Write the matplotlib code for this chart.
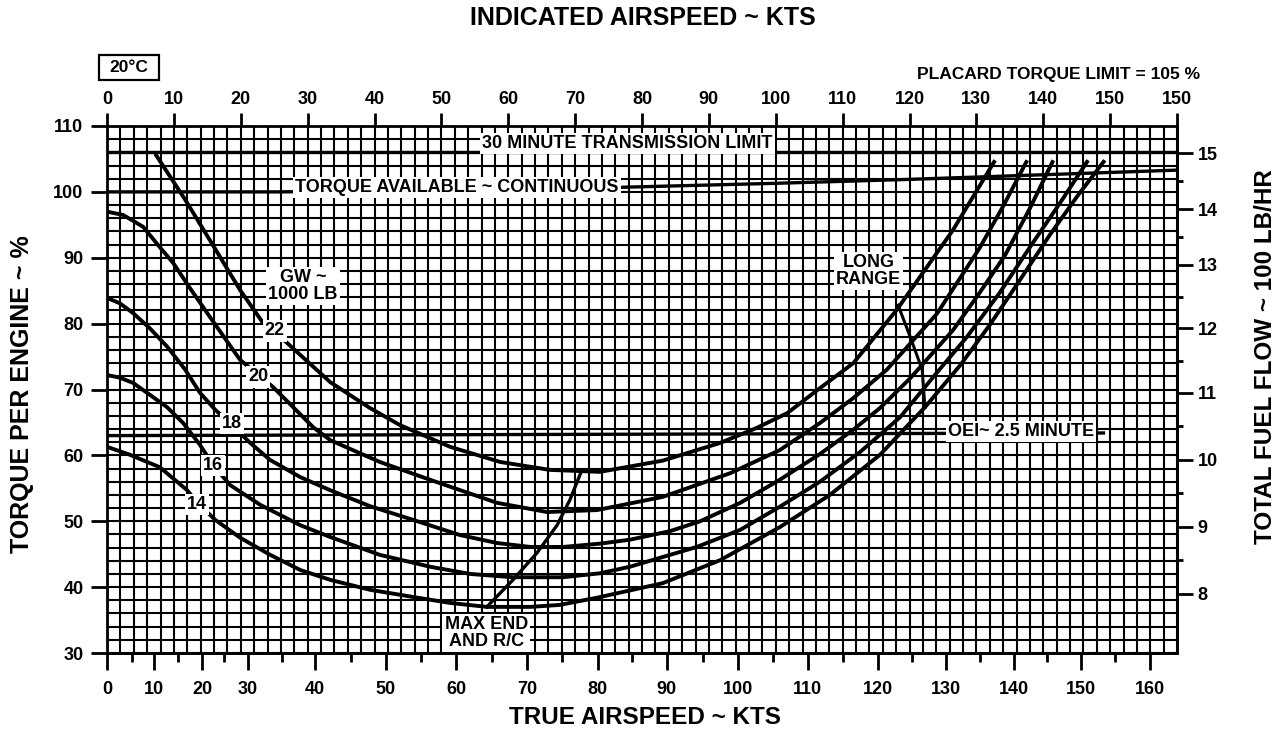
import numpy as np
import matplotlib
matplotlib.use("Agg")
import matplotlib.pyplot as plt
from matplotlib.ticker import MultipleLocator, FixedLocator
from matplotlib.patches import Rectangle

plt.rcParams["font.family"] = ["Liberation Sans", "DejaVu Sans"]
plt.rcParams["font.weight"] = "bold"

# ---------------- data ----------------
ias_ticks = [0, 10, 20, 30, 40, 50, 60, 70, 80, 90, 100, 110, 120, 130, 140, 150, 160]
ias_tick_labels = ["0", "10", "20", "30", "40", "50", "60", "70", "80", "90",
                   "100", "110", "120", "130", "140", "150", "150"]

# true airspeed <-> indicated airspeed calibration
tas_cal = [0, 5, 10, 15, 20, 25, 30, 35, 40, 45, 50, 55, 60, 65, 70, 75, 80,
           90, 100, 110, 120, 130, 140, 150, 160]
ias_cal = [0.0, 3.7, 7.0, 10.6, 14.2, 17.5, 21.1, 26.2, 31.1, 36.5, 41.7, 46.9,
           52.2, 57.6, 62.8, 68.0, 73.4, 83.7, 94.4, 104.8, 115.3, 125.5,
           135.6, 145.6, 155.9]
tas_major = [0, 10, 20, 30, 40, 50, 60, 70, 80, 90, 100, 110, 120, 130, 140, 150, 160]
tas_minor = [5, 15, 25, 35, 45, 55, 65, 75, 85, 95, 105, 115, 125, 135, 145, 155]

# fuel flow scale (100 lb/hr) vs torque
fuel_ticks = [8, 9, 10, 11, 12, 13, 14, 15]
fuel_torque = [39.0, 49.2, 59.3, 69.5, 79.3, 88.9, 97.4, 105.9]
fuel_minor = [8.5, 9.5, 10.5, 11.5, 12.5, 13.5, 14.5]

gw_names = ["22", "20", "18", "16", "14"]

gw22_ias = [7.2, 11.7, 15.9, 19.9, 23.2, 26.9, 33.4, 39.3, 43.8, 51.3, 58.8, 66.2,
            73.7, 83.1, 91.7, 97.0, 101.7, 106.6, 111.6, 118.1, 126.5, 132.8]
gw22_tq = [105.8, 98.8, 91.8, 85.1, 80.3, 77.1, 71.1, 67.2, 64.6, 61.3, 59.0, 57.8,
           57.5, 59.2, 61.9, 64.1, 66.4, 70.2, 74.0, 82.1, 94.2, 104.8]

gw20_ias = [0.0, 2.4, 5.4, 7.9, 9.9, 12.4, 15.4, 19.9, 24.8, 30.8, 33.4, 40.8, 48.3,
            58.3, 65.8, 73.3, 83.1, 93.2, 100.6, 106.6, 111.6, 116.6, 124.1, 130.5,
            134.1, 137.6]
gw20_tq = [97.0, 96.5, 94.7, 91.6, 89.2, 85.4, 81.0, 74.5, 70.4, 64.3, 62.3, 59.0,
           56.3, 52.8, 51.4, 51.7, 53.7, 57.3, 60.8, 64.9, 68.7, 73.0, 81.5, 91.5,
           98.0, 104.8]

gw18_ias = [0.0, 1.9, 3.9, 6.4, 9.0, 11.7, 13.9, 16.2, 18.7, 21.4, 24.4, 28.9, 33.4,
            39.3, 45.8, 52.8, 58.3, 63.3, 68.2, 73.7, 78.2, 84.2, 88.7, 94.7, 100.6,
            106.6, 111.6, 115.6, 120.1, 126.5, 130.5, 134.3, 138.0, 141.5]
gw18_tq = [83.9, 83.1, 81.6, 79.3, 76.5, 73.0, 69.5, 66.9, 64.6, 61.9, 59.3, 56.7,
           54.7, 52.3, 50.2, 47.9, 46.7, 46.1, 46.1, 46.6, 47.2, 48.5, 50.0, 52.8,
           56.3, 60.2, 63.9, 67.2, 71.7, 79.0, 84.7, 90.4, 97.5, 104.8]

gw16_ias = [0.0, 1.9, 3.9, 6.4, 9.0, 11.4, 13.9, 15.9, 18.4, 22.9, 28.9, 33.4, 40.8,
            48.3, 54.3, 60.7, 68.2, 73.7, 78.2, 88.2, 94.7, 100.6, 106.6, 112.6,
            118.6, 123.8, 128.6, 133.5, 138.0, 142.5, 146.7]
gw16_tq = [72.2, 71.8, 71.0, 69.2, 67.3, 64.9, 61.6, 58.5, 55.5, 52.5, 49.4, 47.6,
           44.9, 43.1, 42.0, 41.5, 41.5, 42.1, 43.1, 46.1, 48.7, 52.2, 56.0, 60.5,
           65.8, 72.2, 78.0, 84.7, 91.6, 98.3, 104.8]

gw14_ias = [0.0, 3.4, 7.9, 12.0, 13.5, 16.2, 19.9, 24.4, 28.9, 33.4, 39.3, 45.8,
            51.3, 56.8, 63.3, 67.7, 73.3, 83.1, 91.7, 100.6, 108.1, 115.6, 122.3,
            127.6, 132.0, 136.5, 141.0, 145.2, 149.2]
gw14_tq = [61.3, 60.1, 58.2, 54.7, 52.8, 50.2, 47.5, 44.9, 42.6, 41.1, 39.6, 38.5,
           37.6, 37.0, 37.0, 37.3, 38.4, 40.6, 44.1, 49.1, 54.0, 60.1, 67.3, 73.7,
           79.8, 86.6, 93.5, 99.5, 104.8]

maxend_ias = [56.8, 60.7, 64.3, 67.3, 69.2, 70.9]
maxend_tq = [37.0, 41.1, 45.2, 49.4, 53.2, 57.5]

longrange_ias = [118.3, 120.1, 121.9, 122.3]
longrange_tq = [82.8, 78.0, 73.0, 67.3]

trans_limit_ias = [0, 160]
trans_limit_tq = [106.0, 106.0]

cont_ias = [0, 26, 77, 100, 120, 140, 160]
cont_tq = [100.0, 100.0, 100.7, 101.3, 101.9, 102.6, 103.3]

oei_ias = [0, 149]
oei_tq = [63.0, 63.4]

curves_ias = [gw22_ias, gw20_ias, gw18_ias, gw16_ias, gw14_ias]
curves_tq = [gw22_tq, gw20_tq, gw18_tq, gw16_tq, gw14_tq]


def interp_ext(x, xp, fp):
    x = np.asarray(x, dtype=float)
    xp = np.asarray(xp, dtype=float)
    fp = np.asarray(fp, dtype=float)
    y = np.interp(x, xp, fp)
    lo = (fp[1] - fp[0]) / (xp[1] - xp[0])
    hi = (fp[-1] - fp[-2]) / (xp[-1] - xp[-2])
    y = np.where(x < xp[0], fp[0] + (x - xp[0]) * lo, y)
    y = np.where(x > xp[-1], fp[-1] + (x - xp[-1]) * hi, y)
    return y


W, H = 1286, 741
fig = plt.figure(figsize=(W / 100, H / 100), dpi=100)
ax = fig.add_axes([107 / W, 1 - 653 / H, (1177 - 107) / W, (653 - 126) / H])
ax.set_xlim(0, 160)
ax.set_ylim(30, 110)

# grid
ax.set_xticks(ias_ticks, labels=ias_tick_labels)
ax.xaxis.set_minor_locator(MultipleLocator(2))
ax.yaxis.set_major_locator(MultipleLocator(10))
ax.yaxis.set_minor_locator(MultipleLocator(2))
ax.grid(which="both", color="black", lw=1.5, zorder=0)
ax.set_axisbelow(True)
ax.xaxis.tick_top()
ax.tick_params(which="minor", length=0)
ax.tick_params(axis="x", which="major", direction="out", length=9.5, width=2,
               labelsize=13, pad=3.5, top=True, bottom=False)
ax.tick_params(axis="y", which="major", direction="out", length=11.5, width=2,
               labelsize=13, pad=5.5, left=True, right=False)
for sp in ax.spines.values():
    sp.set_linewidth(2)

# bottom TAS axis
secx = ax.secondary_xaxis("bottom", functions=(
    lambda v: interp_ext(v, ias_cal, tas_cal),
    lambda v: interp_ext(v, tas_cal, ias_cal)))
secx.xaxis.set_major_locator(FixedLocator(tas_major))
secx.xaxis.set_minor_locator(FixedLocator(tas_minor))
secx.tick_params(which="major", length=12, width=2, labelsize=13, pad=8)
secx.tick_params(which="minor", length=6.5, width=2)
secx.spines["bottom"].set_linewidth(2)

# right fuel flow axis
secy = ax.secondary_yaxis("right", functions=(
    lambda t: interp_ext(t, fuel_torque, fuel_ticks),
    lambda f: interp_ext(f, fuel_ticks, fuel_torque)))
secy.yaxis.set_major_locator(FixedLocator(fuel_ticks))
secy.yaxis.set_minor_locator(FixedLocator(fuel_minor))
secy.tick_params(which="major", length=11.5, width=2, labelsize=13, pad=3.5)
secy.tick_params(which="minor", length=4.5, width=2)
secy.spines["right"].set_linewidth(2)

# curves
for xs, ys in zip(curves_ias, curves_tq):
    ax.plot(xs, ys, color="black", lw=2.8, solid_joinstyle="round",
            solid_capstyle="butt", zorder=3)
ax.plot(maxend_ias, maxend_tq, color="black", lw=2.4, zorder=3)
ax.plot(longrange_ias, longrange_tq, color="black", lw=2.2, zorder=3)
ax.plot(trans_limit_ias, trans_limit_tq, color="black", lw=2.4, zorder=3)
ax.plot(cont_ias, cont_tq, color="black", lw=2.4, zorder=3)
ax.plot(oei_ias, oei_tq, color="black", lw=2.4, zorder=3)

box = dict(facecolor="white", edgecolor="none", pad=1.5)
lab = dict(ha="center", va="center", fontsize=13, fontweight="bold", bbox=box, zorder=6)
ax.text(77.8, 107.3, "30 MINUTE TRANSMISSION LIMIT", **lab)
ax.text(52.3, 100.7, "TORQUE AVAILABLE ~ CONTINUOUS", **lab)
ax.text(29.3, 85.7, "GW ~\n1000 LB", linespacing=1.0, **lab)
for name, (lx, ly) in zip(gw_names, [(25.1, 78.9), (22.6, 71.9), (18.7, 64.8),
                                     (15.9, 58.5), (13.5, 52.5)]):
    ax.text(lx, ly, name, **lab)
ax.text(113.9, 88.0, "LONG\nRANGE", linespacing=1.0, **lab)
ax.text(56.7, 33.0, "MAX END\nAND R/C", linespacing=1.0, **lab)
ax.text(136.7, 63.6, "OEI~ 2.5 MINUTE", **lab)

# figure texts
fig.text(643 / W, 1 - 18 / H, "INDICATED AIRSPEED ~ KTS", ha="center", va="center",
         fontsize=18, fontweight="bold")
fig.text(645 / W, 1 - 718 / H, "TRUE AIRSPEED ~ KTS", ha="center", va="center",
         fontsize=17.5, fontweight="bold")
fig.text(22 / W, 1 - 394 / H, "TORQUE PER ENGINE ~ %", ha="center", va="center",
         rotation=90, fontsize=18, fontweight="bold")
fig.text(1265 / W, 1 - 357 / H, "TOTAL FUEL FLOW ~ 100 LB/HR", ha="center",
         va="center", rotation=90, fontsize=17.5, fontweight="bold")
fig.text(1200 / W, 1 - 74 / H, "PLACARD TORQUE LIMIT = 105 %", ha="right",
         va="center", fontsize=12.5, fontweight="bold")
fig.patches.append(Rectangle((99 / W, 1 - 80 / H), 60 / W, 25 / H,
                             transform=fig.transFigure, fill=False, lw=1.6,
                             edgecolor="black"))
fig.text(129 / W, 1 - 67.5 / H, "20°C", ha="center", va="center",
         fontsize=12.5, fontweight="bold")

fig.savefig("out.png", dpi=100)
